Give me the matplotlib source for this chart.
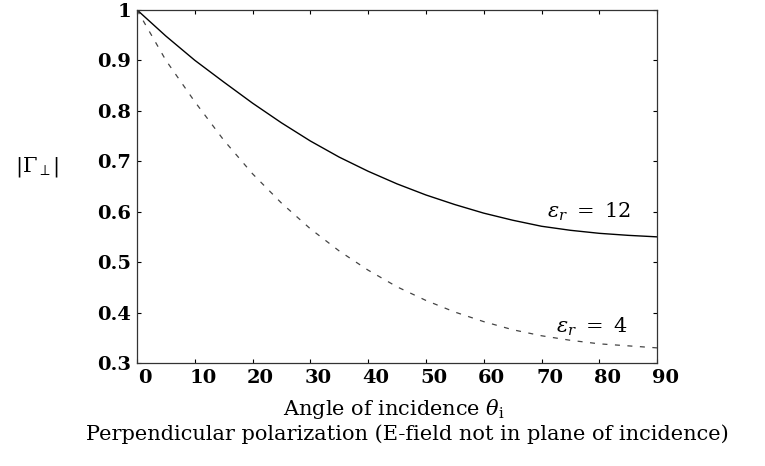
import numpy as np
import matplotlib
matplotlib.use("Agg")
from matplotlib import pyplot as plt
from matplotlib import transforms

# angle of incidence (deg) and |Gamma_perp|
angle = [0, 5, 10, 15, 20, 25, 30, 35, 40, 45, 50, 55, 60, 65, 70, 75, 80, 85, 90]
gamma_er12 = [1.0, 0.948, 0.900, 0.857, 0.815, 0.776, 0.740, 0.708, 0.680, 0.655,
              0.633, 0.614, 0.597, 0.583, 0.571, 0.563, 0.557, 0.553, 0.550]
gamma_er4 = [1.0, 0.900, 0.818, 0.742, 0.675, 0.617, 0.566, 0.522, 0.484, 0.451,
             0.424, 0.401, 0.382, 0.366, 0.354, 0.345, 0.338, 0.334, 0.330]
xticks = [0, 10, 20, 30, 40, 50, 60, 70, 80, 90]
yticks = [0.3, 0.4, 0.5, 0.6, 0.7, 0.8, 0.9, 1.0]
ytick_labels = ["0.3", "0.4", "0.5", "0.6", "0.7", "0.8", "0.9", "1"]

plt.rcParams['font.family'] = ['DejaVu Serif']
plt.rcParams['mathtext.fontset'] = 'dejavuserif'

fig = plt.figure(figsize=(7.65, 4.66), dpi=100)
ax = fig.add_axes([0.179, 0.221, 0.68, 0.758])

ax.plot(angle, gamma_er12, color='black', linewidth=1.0)
ax.plot(angle, gamma_er4, color='#444444', linewidth=0.9, dashes=(4, 6))

ax.set_xlim(0, 90)
ax.set_ylim(0.3, 1.0)
ax.set_xticks(xticks)
ax.set_xticklabels([str(t) for t in xticks], fontsize=14, fontweight='bold')
ax.set_yticks(yticks)
ax.set_yticklabels(ytick_labels, fontsize=14, fontweight='bold')
ax.tick_params(direction='in', length=3, width=0.8, top=True, right=True, pad=4)

# tick labels in the original sit a little right of their ticks
shift = transforms.ScaledTranslation(8 / 100, 0, fig.dpi_scale_trans)
for lab in ax.get_xticklabels():
    lab.set_transform(lab.get_transform() + shift)

for s in ax.spines.values():
    s.set_linewidth(0.9)
    s.set_color('#333333')

ax.text(70.9, 0.599, r'$\varepsilon_r\ =\ 12$', fontsize=15, fontweight='bold',
        ha='left', va='center')
ax.text(72.5, 0.372, r'$\varepsilon_r\ =\ 4$', fontsize=15, fontweight='bold',
        ha='left', va='center')

fig.text(0.049, 0.642, r'$|\Gamma_\perp|$', fontsize=15, ha='center', va='center')
fig.text(0.515, 0.122, r'Angle of incidence $\theta_\mathrm{i}$', fontsize=15,
         ha='center', va='center')
fig.text(0.533, 0.069, 'Perpendicular polarization (E-field not in plane of incidence)',
         fontsize=15, ha='center', va='center')

plt.savefig('out.png', dpi=100)
